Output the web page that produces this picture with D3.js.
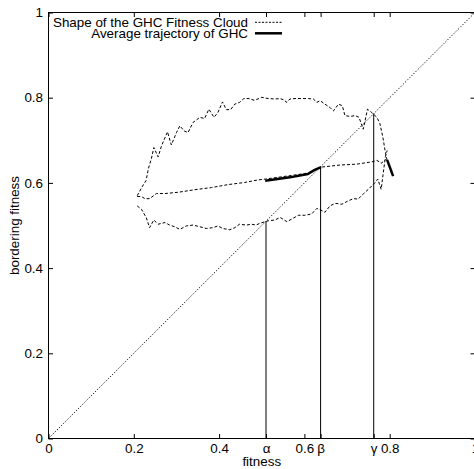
<!DOCTYPE html>
<html>
<head>
<meta charset="utf-8">
<script src="https://cdn.jsdelivr.net/npm/d3@7"></script>
<style>
  html, body { margin: 0; padding: 0; background: #fff; }
  svg { display: block; }
  text { font-family: "Liberation Sans", Arial, Helvetica, sans-serif; }
</style>
</head>
<body>
<svg id="chart" width="474" height="469"></svg>
<script>
// ---- data ----
const xTickValues = [0, 0.2, 0.4, 0.51, 0.6, 0.638, 0.7625, 0.8, 1];
const xTickLabels = ["0", "0.2", "0.4", "α", "0.6", "β", "γ", "0.8", "1"];
const yTickValues = [0, 0.2, 0.4, 0.6, 0.8, 1];
const yTickLabels = ["0", "0.2", "0.4", "0.6", "0.8", "1"];
const markerNames = ["α", "β", "γ"];
const markerValues = [0.51, 0.638, 0.7625];
const diagonal = [[0, 0], [1, 1]];

const cloudUpper = [
  [0.208,0.570],[0.219,0.590],[0.229,0.606],[0.234,0.633],[0.241,0.656],[0.247,0.683],
  [0.257,0.661],[0.265,0.687],[0.279,0.720],[0.288,0.689],[0.300,0.718],[0.308,0.734],
  [0.318,0.722],[0.327,0.718],[0.339,0.742],[0.355,0.754],[0.366,0.751],[0.376,0.773],
  [0.388,0.754],[0.397,0.765],[0.408,0.790],[0.417,0.772],[0.427,0.772],[0.437,0.785],
  [0.448,0.789],[0.458,0.798],[0.470,0.798],[0.482,0.794],[0.491,0.797],[0.500,0.801],
  [0.515,0.798],[0.531,0.797],[0.543,0.798],[0.551,0.795],[0.559,0.789],[0.566,0.797],
  [0.578,0.798],[0.594,0.798],[0.609,0.798],[0.621,0.797],[0.629,0.789],[0.637,0.793],
  [0.648,0.785],[0.660,0.777],[0.668,0.769],[0.680,0.785],[0.689,0.781],[0.695,0.758],
  [0.707,0.756],[0.719,0.758],[0.728,0.754],[0.738,0.726],[0.748,0.773],[0.758,0.765],
  [0.770,0.754],[0.777,0.739],[0.784,0.707],[0.790,0.671],[0.795,0.648]
];
const cloudLower = [
  [0.208,0.546],[0.218,0.538],[0.229,0.519],[0.237,0.495],[0.247,0.513],[0.257,0.503],
  [0.273,0.507],[0.284,0.501],[0.296,0.497],[0.308,0.491],[0.323,0.499],[0.339,0.501],
  [0.355,0.497],[0.370,0.493],[0.386,0.495],[0.397,0.499],[0.409,0.493],[0.425,0.490],
  [0.437,0.495],[0.448,0.503],[0.464,0.501],[0.476,0.503],[0.487,0.501],[0.495,0.505],
  [0.515,0.511],[0.531,0.513],[0.543,0.519],[0.559,0.509],[0.570,0.515],[0.586,0.524],
  [0.601,0.524],[0.617,0.527],[0.629,0.540],[0.637,0.537],[0.648,0.531],[0.660,0.546],
  [0.672,0.552],[0.688,0.550],[0.703,0.558],[0.715,0.563],[0.726,0.562],[0.738,0.574],
  [0.750,0.585],[0.766,0.601],[0.772,0.609],[0.780,0.585],[0.785,0.624],[0.790,0.662],
  [0.794,0.676]
];
const cloudMean = [
  [0.208,0.568],[0.218,0.568],[0.226,0.563],[0.237,0.563],[0.245,0.569],[0.253,0.575],
  [0.273,0.575],[0.304,0.578],[0.343,0.584],[0.382,0.589],[0.421,0.596],[0.460,0.601],
  [0.491,0.607],[0.508,0.609],[0.566,0.617],[0.608,0.623],[0.639,0.637],[0.684,0.642],
  [0.723,0.644],[0.761,0.650],[0.770,0.653],[0.780,0.646],[0.791,0.655]
];
const trajectoryA = [[0.508,0.605],[0.566,0.613],[0.608,0.621],[0.623,0.630],[0.639,0.637]];
const trajectoryB = [[0.794,0.654],[0.808,0.616]];
const legendLabels = ["Shape of the GHC Fitness Cloud", "Average trajectory of GHC"];

// ---- layout ----
const svg = d3.select("#chart");
const mLeft = 48.5, mRight = 475, mTop = 12.5, mBottom = 438.5;
const x = d3.scaleLinear().domain([0, 1]).range([mLeft, mRight]);
const y = d3.scaleLinear().domain([0, 1]).range([mBottom, mTop]);
const fs = 13.4;
const line = d3.line().x(d => x(d[0])).y(d => y(d[1]));

// axes (inward ticks, gnuplot style)
const fmtX = (d, i) => xTickLabels[i];
const fmtY = (d, i) => yTickLabels[i];
const gx = svg.append("g").attr("transform", `translate(0,${mBottom})`)
  .call(d3.axisBottom(x).tickValues(xTickValues).tickFormat(fmtX).tickSizeInner(-4.5).tickSizeOuter(0).tickPadding(4.5));
const gxt = svg.append("g").attr("transform", `translate(0,${mTop})`)
  .call(d3.axisTop(x).tickValues(xTickValues).tickFormat("").tickSizeInner(-4.5).tickSizeOuter(0));
const gy = svg.append("g").attr("transform", `translate(${mLeft},0)`)
  .call(d3.axisLeft(y).tickValues(yTickValues).tickFormat(fmtY).tickSizeInner(-4.5).tickSizeOuter(0).tickPadding(5.5));
const gyr = svg.append("g").attr("transform", `translate(${mRight},0)`)
  .call(d3.axisRight(y).tickValues(yTickValues).tickFormat("").tickSizeInner(-4.5).tickSizeOuter(0));
[gx, gxt, gy, gyr].forEach(g => {
  g.select(".domain").remove();
  g.selectAll(".tick line").attr("stroke", "#000").attr("stroke-width", 1);
  g.selectAll("text").attr("font-size", fs).attr("fill", "#000")
    .attr("font-family", "'Liberation Sans', Arial, sans-serif");
});

// border
svg.append("rect").attr("x", mLeft).attr("y", mTop)
  .attr("width", mRight - mLeft).attr("height", mBottom - mTop)
  .attr("fill", "none").attr("stroke", "#000").attr("stroke-width", 1);

// axis titles
svg.append("text").attr("x", (mLeft + mRight) / 2).attr("y", 465.5)
  .attr("text-anchor", "middle").attr("font-size", fs).text("fitness");
svg.append("text").attr("transform", `translate(19,${(mTop + mBottom) / 2}) rotate(-90)`)
  .attr("text-anchor", "middle").attr("font-size", fs).text("bordering fitness");

// diagonal y = x
svg.append("path").datum(diagonal).attr("d", line)
  .attr("fill", "none").attr("stroke", "#000").attr("stroke-width", 1)
  .attr("stroke-dasharray", "1.2,1.8");

// marker verticals (from axis up to the diagonal)
svg.selectAll(".marker").data(markerValues).enter().append("line")
  .attr("class", "marker")
  .attr("x1", d => x(d)).attr("x2", d => x(d))
  .attr("y1", y(0)).attr("y2", d => y(d))
  .attr("stroke", "#000").attr("stroke-width", 1);

// cloud shape
[cloudUpper, cloudLower, cloudMean].forEach(arr => {
  svg.append("path").datum(arr).attr("d", line)
    .attr("fill", "none").attr("stroke", "#000").attr("stroke-width", 1)
    .attr("stroke-dasharray", "3,2");
});

// trajectory
[trajectoryA, trajectoryB].forEach(arr => {
  svg.append("path").datum(arr).attr("d", line)
    .attr("fill", "none").attr("stroke", "#000").attr("stroke-width", 2.5);
});

// legend
const lg = svg.append("g");
lg.append("text").attr("x", 248).attr("y", 26.8).attr("text-anchor", "end")
  .attr("font-size", fs).text(legendLabels[0]);
lg.append("line").attr("x1", 255).attr("x2", 282).attr("y1", 22.3).attr("y2", 22.3)
  .attr("stroke", "#000").attr("stroke-width", 1).attr("stroke-dasharray", "2,1.5");
lg.append("text").attr("x", 248).attr("y", 37.8).attr("text-anchor", "end")
  .attr("font-size", fs).text(legendLabels[1]);
lg.append("line").attr("x1", 255).attr("x2", 282).attr("y1", 33.3).attr("y2", 33.3)
  .attr("stroke", "#000").attr("stroke-width", 2.5);
</script>
</body>
</html>
